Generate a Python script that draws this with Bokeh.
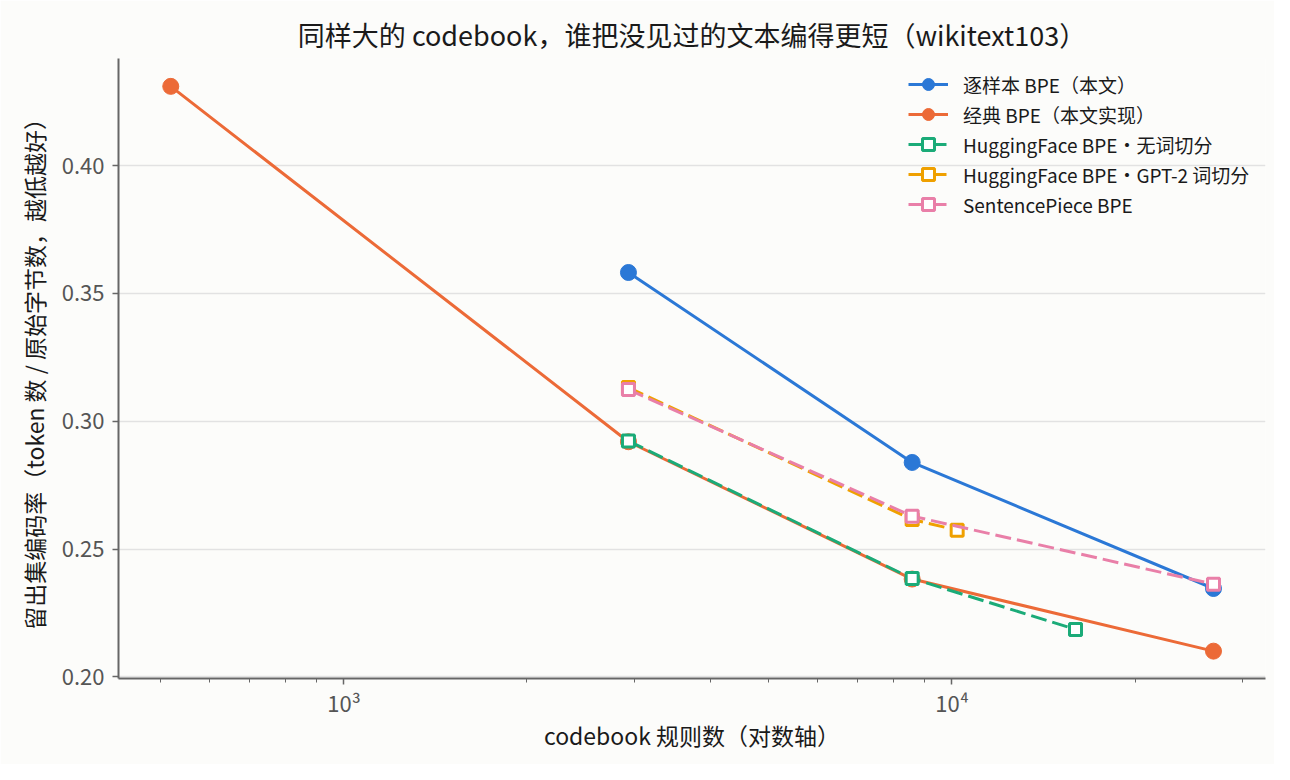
from bokeh.plotting import figure
from bokeh.models import Range1d, FixedTicker, Legend, LegendItem, PrintfTickFormatter
from bokeh.embed import file_html
from bokeh.resources import INLINE

# ---- data ----
rules_ours = [2937, 8600, 26920]
rate_ours = [0.3582, 0.2839, 0.2346]

rules_classic = [519, 2937, 8600, 26920]
rate_classic = [0.4310, 0.2920, 0.2383, 0.2101]

rules_hf_nopre = [2937, 8600, 15964]
rate_hf_nopre = [0.2923, 0.2385, 0.2186]

rules_hf_gpt2 = [2937, 8600, 10198]
rate_hf_gpt2 = [0.3132, 0.2616, 0.2574]

rules_sp = [2937, 8600, 26920]
rate_sp = [0.3124, 0.2629, 0.2363]

labels = ["逐样本 BPE（本文）", "经典 BPE（本文实现）", "HuggingFace BPE・无词切分",
          "HuggingFace BPE・GPT-2 词切分", "SentencePiece BPE"]

y_ticks = [0.20, 0.25, 0.30, 0.35, 0.40]
x_major = [1000, 10000]
x_minor = [500, 600, 700, 800, 900, 2000, 3000, 4000, 5000, 6000, 7000, 8000, 9000, 20000, 30000]
x_tick_labels = {1000: "10³", 10000: "10⁴"}

FONT = "Noto Sans CJK SC"
BG = "#fcfcfa"
C_BLUE = "#2b78d6"
C_ORANGE = "#ec6a37"
C_GREEN = "#1bab78"
C_GOLD = "#efa000"
C_PINK = "#e97fa8"
DASH = "16 6"

p = figure(width=1274, height=764, x_axis_type="log",
           x_range=Range1d(425.8, 32780), y_range=Range1d(0.1994, 0.4419),
           output_backend="svg", toolbar_location=None,
           background_fill_color=BG, border_fill_color=BG,
           min_border_left=118, min_border_right=9, min_border_top=58, min_border_bottom=86,
           title="同样大的 codebook，谁把没见过的文本编得更短（wikitext103）")
p.outline_line_color = None

p.title.align = "center"
p.title.text_font = FONT
p.title.text_font_size = "27px"
p.title.text_font_style = "normal"
p.title.text_color = "#1a1a1a"

# axes
for ax in (p.xaxis[0], p.yaxis[0]):
    ax.axis_line_color = "#666666"
    ax.axis_line_width = 2
    ax.major_tick_line_color = "#666666"
    ax.major_tick_line_width = 1.5
    ax.minor_tick_line_color = "#666666"
    ax.major_tick_in = 0
    ax.major_tick_out = 6
    ax.minor_tick_in = 0
    ax.minor_tick_out = 4
    ax.major_label_text_font = FONT
    ax.major_label_text_font_size = "22px"
    ax.major_label_text_color = "#555555"
    ax.axis_label_text_font = FONT
    ax.axis_label_text_font_size = "23px"
    ax.axis_label_text_font_style = "normal"
    ax.axis_label_text_color = "#1a1a1a"

p.xaxis.ticker = FixedTicker(ticks=x_major, minor_ticks=x_minor)
p.xaxis.major_label_overrides = x_tick_labels
p.xaxis.axis_label = "codebook 规则数（对数轴）"
p.xaxis.major_label_standoff = 1
p.xaxis.axis_label_standoff = -3

p.yaxis.ticker = FixedTicker(ticks=y_ticks)
p.yaxis.formatter = PrintfTickFormatter(format="%.2f")
p.yaxis.axis_label = "留出集编码率（token 数 / 原始字节数，越低越好）"
p.yaxis.minor_tick_line_color = None
p.yaxis.major_label_standoff = 8
p.yaxis.axis_label_standoff = 8

p.xgrid.visible = False
p.ygrid.ticker = FixedTicker(ticks=y_ticks)
p.ygrid.grid_line_color = "#e2e2e2"
p.ygrid.grid_line_width = 1.7

LW = 3

l1 = p.line(rules_ours, rate_ours, line_color=C_BLUE, line_width=LW)
s1 = p.scatter(rules_ours, rate_ours, marker="circle", size=16, fill_color=C_BLUE, line_color=C_BLUE)

l2 = p.line(rules_classic, rate_classic, line_color=C_ORANGE, line_width=LW)
s2 = p.scatter(rules_classic, rate_classic, marker="circle", size=16, fill_color=C_ORANGE, line_color=C_ORANGE)

l3 = p.line(rules_hf_nopre, rate_hf_nopre, line_color=C_GREEN, line_width=LW, line_dash=DASH)
s3 = p.scatter(rules_hf_nopre, rate_hf_nopre, marker="square", size=12, fill_color="white",
               line_color=C_GREEN, line_width=3)

l4 = p.line(rules_hf_gpt2, rate_hf_gpt2, line_color=C_GOLD, line_width=LW, line_dash=DASH)
s4 = p.scatter(rules_hf_gpt2, rate_hf_gpt2, marker="square", size=12, fill_color="white",
               line_color=C_GOLD, line_width=3)

l5 = p.line(rules_sp, rate_sp, line_color=C_PINK, line_width=LW, line_dash=DASH)
s5 = p.scatter(rules_sp, rate_sp, marker="square", size=12, fill_color="white",
               line_color=C_PINK, line_width=3)

items = [LegendItem(label=labels[0], renderers=[l1, s1]),
         LegendItem(label=labels[1], renderers=[l2, s2]),
         LegendItem(label=labels[2], renderers=[l3, s3]),
         LegendItem(label=labels[3], renderers=[l4, s4]),
         LegendItem(label=labels[4], renderers=[l5, s5])]
legend = Legend(items=items, location="top_right")
legend.border_line_color = None
legend.background_fill_alpha = 0
legend.label_text_font = FONT
legend.label_text_font_size = "19px"
legend.label_text_color = "#1a1a1a"
legend.glyph_width = 40
legend.glyph_height = 30
legend.label_height = 30
legend.label_width = 291
legend.spacing = 0
legend.margin = 11
legend.padding = 10
legend.label_standoff = 15
p.add_layout(legend)

open("out.html", "w").write(file_html(p, INLINE))
